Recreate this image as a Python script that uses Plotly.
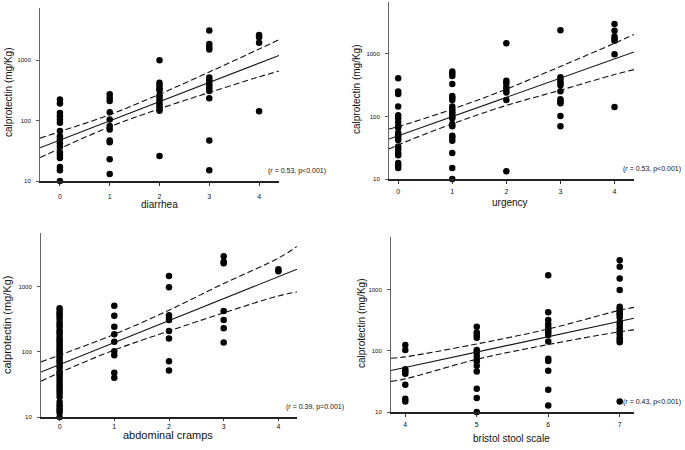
import plotly.graph_objects as go

# ---------------- data ----------------
diarrhea_levels = [0, 1, 2, 3, 4]
diarrhea_vals = [
    [224, 192, 134, 118, 104, 92, 67, 55, 49, 42, 37, 30, 27, 24, 17, 15, 10],
    [274, 240, 212, 138, 104, 81, 71, 47, 44, 23, 13],
    [1000, 424, 380, 344, 318, 263, 241, 218, 192, 173, 156, 145, 26],
    [3090, 1860, 1660, 1510, 516, 466, 424, 380, 344, 310, 235, 47, 15],
    [2600, 2400, 1950, 143],
]
diarrhea_fit_x = [-0.4, 4.4]
diarrhea_fit_y = [35.5, 1200]
diarrhea_ci_x = [-0.4, 0, 1, 2, 3, 4, 4.4]
diarrhea_ci_up = [51.3, 65.8, 125, 273, 638, 1528, 2188]
diarrhea_ci_lo = [24.5, 34.5, 78.9, 157, 292, 530, 661]

urgency_levels = [0, 1, 2, 3, 4]
urgency_vals = [
    [407, 250, 228, 144, 105, 94, 81, 70, 66, 55, 50, 46, 42, 33, 30, 26, 24, 18, 16.3, 15],
    [525, 480, 443, 330, 213, 200, 183, 144, 130, 119, 110, 99, 94, 76, 70, 49, 46, 41, 26, 15, 10],
    [1480, 373, 340, 293, 265, 241, 183, 13.3],
    [2400, 424, 383, 347, 315, 253, 189, 173, 163, 102, 70],
    [3000, 2340, 1900, 1740, 1630, 990, 141],
]
urgency_fit_x = [-0.17, 4.36]
urgency_fit_y = [43.6, 1072]
urgency_ci_x = [-0.17, 0, 1, 2, 3, 4, 4.36]
urgency_ci_up = [63.1, 68.7, 130.6, 273, 631, 1479, 2042]
urgency_ci_lo = [30.2, 35.2, 76.2, 150, 263, 468, 562]

cramps_levels = [0, 1, 2, 3, 4]
cramps_vals = [
    [466, 423, 390, 358, 325, 288, 262, 241, 214, 198, 181, 164, 151, 140, 127, 115, 106,
     98, 89, 81, 74, 69, 62, 57, 50, 47, 43, 39, 35, 31.5, 28.6, 25.8, 23, 20.3, 17, 15.1,
     13.8, 12.7, 11.7, 10],
    [513, 358, 243, 186, 143, 102, 89, 48, 40],
    [1460, 980, 367, 333, 310, 209, 160, 72, 52],
    [2950, 2430, 2290, 423, 308, 230, 140],
    [1860, 1730],
]
cramps_fit_x = [-0.34, 4.34]
cramps_fit_y = [49, 1862]
cramps_ci_x = [-0.34, 0, 1, 2, 3, 4, 4.34]
cramps_ci_up = [70.1, 89.1, 186, 437, 1122, 2754, 4169]
cramps_ci_lo = [35.5, 47.9, 107, 209, 398, 724, 832]

bristol_levels = [4, 5, 6, 7]
bristol_vals = [
    [124, 103, 50, 46, 42, 27.8, 16.4, 14.8],
    [245, 199, 181, 163, 103, 95, 83, 71, 67, 57, 46, 24, 16.9, 10],
    [1700, 423, 316, 269, 238, 218, 200, 181, 141, 74, 68, 47, 23, 12.8],
    [2990, 2340, 1510, 980, 521, 477, 443, 407, 382, 347, 290, 262, 232, 210, 185, 163,
     150, 137, 14.8],
]
bristol_fit_x = [3.8, 7.2]
bristol_fit_y = [47.4, 339]
bristol_ci_x = [3.8, 4, 5, 6, 7, 7.2]
bristol_ci_up = [75.5, 79.4, 129, 226, 457, 509]
bristol_ci_lo = [31.6, 34.7, 72.4, 126, 204, 219]

y_tickvals = [10, 100, 1000]
y_ticktext = ["10", "100", "1000"]
y_title = "calprotectin (mg/Kg)"

panels = [
    dict(levels=diarrhea_levels, vals=diarrhea_vals, fx=diarrhea_fit_x, fy=diarrhea_fit_y,
         cx=diarrhea_ci_x, cu=diarrhea_ci_up, cl=diarrhea_ci_lo, title="diarrhea",
         stat="(<i>r</i> = 0.53, p<0.001)"),
    dict(levels=urgency_levels, vals=urgency_vals, fx=urgency_fit_x, fy=urgency_fit_y,
         cx=urgency_ci_x, cu=urgency_ci_up, cl=urgency_ci_lo, title="urgency",
         stat="(<i>r</i> = 0.53, p<0.001)"),
    dict(levels=cramps_levels, vals=cramps_vals, fx=cramps_fit_x, fy=cramps_fit_y,
         cx=cramps_ci_x, cu=cramps_ci_up, cl=cramps_ci_lo, title="abdominal cramps",
         stat="(<i>r</i> = 0.39, p=0.001)"),
    dict(levels=bristol_levels, vals=bristol_vals, fx=bristol_fit_x, fy=bristol_fit_y,
         cx=bristol_ci_x, cu=bristol_ci_up, cl=bristol_ci_lo, title="bristol stool scale",
         stat="(<i>r</i> = 0.43, p<0.001)"),
]

# ---------------- layout geometry (pixels in a 685x450 canvas) ----------------
W, H = 685, 450
geom = [
    dict(l=40, r=279, t=8, b=181, xr=[-0.4, 4.4], ytop=3.864, tx=159, ty=205,
         yx=8, yy=93, sx=328, sy=171, fs=10, tl=3, so=5),
    dict(l=389, r=634, t=2, b=179, xr=[-0.17, 4.36], ytop=3.83, tx=510, ty=202,
         yx=357, yy=90, sx=683, sy=169, fs=10, tl=3, so=2),
    dict(l=41, r=297, t=233, b=417, xr=[-0.34, 4.34], ytop=3.826, tx=168, ty=435,
         yx=7, yy=325, sx=346, sy=407, fs=11, tl=2, so=0),
    dict(l=391, r=634, t=237, b=412, xr=[3.8, 7.2], ytop=3.855, tx=512, ty=438,
         yx=361, yy=323, sx=683, sy=402, fs=10, tl=3, so=2),
]

FONT = "Liberation Sans, Arial, sans-serif"
fig = go.Figure()
layout = dict(
    width=W, height=H, margin=dict(l=0, r=0, t=0, b=0, autoexpand=False),
    paper_bgcolor="white", plot_bgcolor="white", showlegend=False,
    font=dict(family=FONT, color="#000"),
    annotations=[],
)

for i, (p, g) in enumerate(zip(panels, geom)):
    n = "" if i == 0 else str(i + 1)
    xa, ya = "x" + n, "y" + n
    xs, ys = [], []
    for lev, col in zip(p["levels"], p["vals"]):
        xs += [lev] * len(col)
        ys += col
    fig.add_trace(go.Scatter(x=xs, y=ys, mode="markers", xaxis=xa, yaxis=ya,
                             marker=dict(size=6.5, color="black"), cliponaxis=False))
    fig.add_trace(go.Scatter(x=p["fx"], y=p["fy"], mode="lines", xaxis=xa, yaxis=ya,
                             line=dict(color="#111", width=1.1)))
    for band in (p["cu"], p["cl"]):
        fig.add_trace(go.Scatter(x=p["cx"], y=band, mode="lines", xaxis=xa, yaxis=ya,
                                 line=dict(color="#111", width=1.1, dash="6px,3px",
                                           shape="spline")))
    layout["xaxis" + n] = dict(
        domain=[g["l"] / W, g["r"] / W], anchor=ya, range=g["xr"],
        tickvals=p["levels"], ticks="outside", ticklen=g["tl"], tickwidth=1,
        tickcolor="#333", showline=True, linecolor="#222", linewidth=1.5,
        showgrid=False, zeroline=False,
        tickfont=dict(size=7, color="#111"), ticklabelstandoff=g["so"],
    )
    layout["yaxis" + n] = dict(
        domain=[1 - g["b"] / H, 1 - g["t"] / H], anchor=xa, type="log",
        range=[1, g["ytop"]], tickvals=y_tickvals, ticktext=y_ticktext,
        ticks="outside", ticklen=3, tickwidth=1, tickcolor="#555",
        showline=True, linecolor="#666", linewidth=1, showgrid=False, zeroline=False,
        tickfont=dict(size=6, color="#111"), ticklabelstandoff=4,
    )
    layout["annotations"] += [
        dict(text=p["title"], x=g["tx"] / W, y=1 - g["ty"] / H, xref="paper", yref="paper",
             showarrow=False, xanchor="center", yanchor="middle",
             font=dict(size=g["fs"], color="#111")),
        dict(text=y_title, x=g["yx"] / W, y=1 - g["yy"] / H, xref="paper", yref="paper",
             showarrow=False, xanchor="center", yanchor="middle", textangle=-90,
             font=dict(size=g["fs"], color="#111")),
        dict(text=p["stat"], x=g["sx"] / W, y=1 - g["sy"] / H, xref="paper", yref="paper",
             showarrow=False, xanchor="right", yanchor="middle",
             font=dict(size=7, color="#111")),
    ]

fig.update_layout(**layout)
fig.write_html(
    "out.html",
    config={"displayModeBar": False, "staticPlot": True},
    post_script="document.body.style.margin='0';document.body.style.padding='0';"
                "document.body.style.overflow='hidden';",
)
